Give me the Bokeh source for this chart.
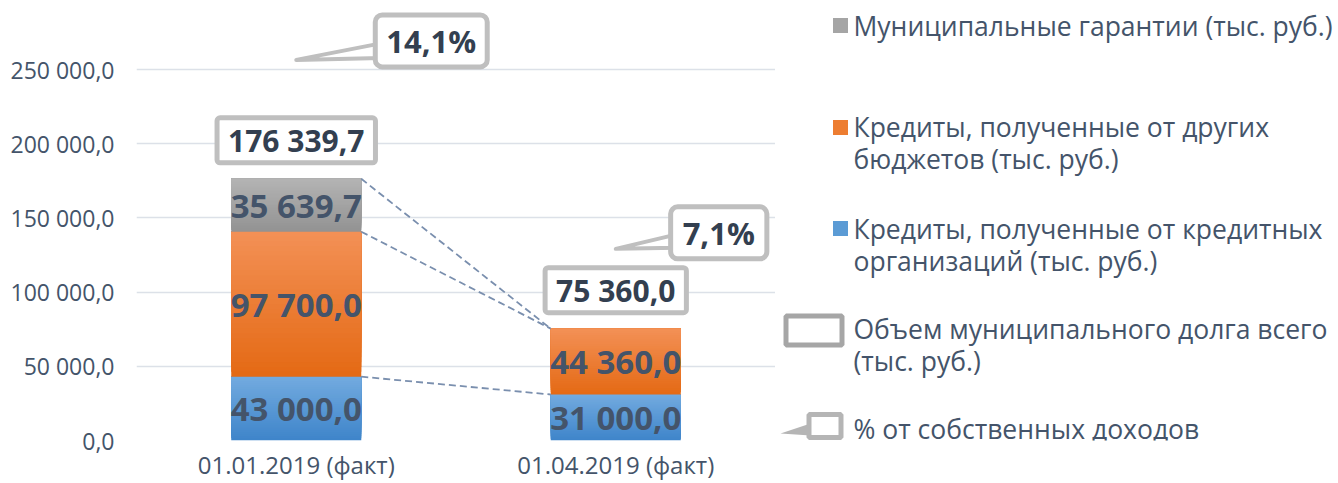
from bokeh.plotting import figure
from bokeh.models import Range1d, FixedTicker, Label
from bokeh.layouts import row
from bokeh.embed import file_html
from bokeh.resources import INLINE
from bokeh.core.properties import value

# ---------------- data ----------------
categories = ["01.01.2019 (факт)", "01.04.2019 (факт)"]
credit_org = [43000.0, 31000.0]        # Кредиты, полученные от кредитных организаций
credit_budget = [97700.0, 44360.0]     # Кредиты, полученные от других бюджетов
guarantees = [35639.7, 0.0]            # Муниципальные гарантии
totals = [176339.7, 75360.0]           # Объем муниципального долга всего
pct_income = [14.1, 7.1]               # % от собственных доходов
y_ticks = [0, 50000, 100000, 150000, 200000, 250000]
y_tick_labels = ["0,0", "50 000,0", "100 000,0", "150 000,0", "200 000,0", "250 000,0"]
legend_labels = [
    ["Муниципальные гарантии (тыс. руб.)"],
    ["Кредиты, полученные от других", "бюджетов (тыс. руб.)"],
    ["Кредиты, полученные от кредитных", "организаций (тыс. руб.)"],
    ["Объем муниципального долга всего", "(тыс. руб.)"],
    ["% от собственных доходов"],
]


def fmt(v):
    return "{:,.1f}".format(v).replace(",", " ").replace(".", ",")


FONT = "Open Sans"
TXT = "#44546A"
DARK = "#333F50"

# ---------------- main figure ----------------
FRAME_W, FRAME_H = 639, 440
PCT_MAX = 16.3
p = figure(width=775, height=483, x_range=Range1d(0, len(categories)),
           y_range=Range1d(0, 296500), output_backend="svg", toolbar_location=None,
           min_border_left=136, min_border_right=0, min_border_top=0, min_border_bottom=43)
p.extra_y_ranges = {"pct": Range1d(0, PCT_MAX)}
p.outline_line_color = None
p.background_fill_color = "white"
p.border_fill_color = "white"

xs = [i + 0.5 for i in range(len(categories))]
p.xaxis.ticker = FixedTicker(ticks=xs)
p.xaxis.major_label_overrides = {x: c for x, c in zip(xs, categories)}
p.yaxis.ticker = FixedTicker(ticks=y_ticks)
p.yaxis.major_label_overrides = {t: l for t, l in zip(y_ticks, y_tick_labels)}
for ax in (p.xaxis[0], p.yaxis[0]):
    ax.axis_line_color = None
    ax.major_tick_line_color = None
    ax.minor_tick_line_color = None
    ax.major_tick_out = 0
    ax.major_tick_in = 0
    ax.minor_tick_out = 0
    ax.minor_tick_in = 0
    ax.major_label_text_font = FONT
    ax.major_label_text_color = TXT
p.xaxis.major_label_text_font_size = "24px"
p.yaxis.major_label_text_font_size = "23px"
p.xaxis.major_label_standoff = 7
p.yaxis.major_label_standoff = 22
p.xgrid.grid_line_color = None
p.ygrid.grid_line_color = "#DCE1E8"
p.ygrid.grid_line_width = 1.5

BAR_W = 0.407


def hex2rgb(h):
    h = h.lstrip("#")
    return tuple(int(h[i:i + 2], 16) for i in (0, 2, 4))


def lerp(c1, c2, t):
    a, b = hex2rgb(c1), hex2rgb(c2)
    return "#%02x%02x%02x" % tuple(int(round(a[k] + (b[k] - a[k]) * t)) for k in range(3))


series = [
    (credit_org, "#3F85CA", "#72AADF"),
    (credit_budget, "#E46A15", "#F39055"),
    (guarantees, "#939393", "#B3B3B3"),
]

N = 30
gx, gb, gt, gc = [], [], [], []
lx, ly, lt = [], [], []
cum = [0.0] * len(categories)
levels = []
for vals, cbot, ctop in series:
    for i, v in enumerate(vals):
        b, t = cum[i], cum[i] + v
        if v > 0:
            for k in range(N):
                gx.append(xs[i])
                gb.append(b + (t - b) * k / N)
                gt.append(t)
                gc.append(lerp(cbot, ctop, k / (N - 1)))
            lx.append(xs[i])
            ly.append((b + t) / 2)
            lt.append(fmt(v))
        cum[i] = t
    levels.append(list(cum))

p.vbar(x=gx, bottom=gb, top=gt, width=BAR_W, fill_color=gc, line_color=None)

# dashed connector lines between bars
for lv in levels:
    p.segment(x0=[xs[0] + BAR_W / 2], y0=[lv[0]], x1=[xs[1] - BAR_W / 2], y1=[lv[1]],
              line_color="#7A8FAE", line_width=1.8, line_dash="7 4")

p.text(x=lx, y=ly, text=lt, text_font=value(FONT), text_font_style="bold",
       text_font_size="33px", text_color=TXT, text_align="center", text_baseline="middle")

# total boxes
for i, tot in enumerate(totals):
    p.add_layout(Label(x=xs[i], y=tot, y_offset=16, text=fmt(tot),
                       text_font=FONT, text_font_style="bold", text_font_size="30px",
                       text_color=DARK, text_align="center", text_baseline="bottom",
                       background_fill_color="white", border_line_color="#BFBFBF",
                       border_line_width=5, padding=dict(left=11, right=11, top=2, bottom=2),
                       border_radius=3))

# percent callouts
px_x = FRAME_W / len(categories)
px_y = FRAME_H / PCT_MAX
callout_style = [
    dict(cx=135, cy=19, up=(82, 16), lo=(84, 2), pad=11),
    dict(cx=103, cy=16, up=(59, 14), lo=(61, 1), pad=12),
]
for i, pc in enumerate(pct_income):
    st = callout_style[i]
    tx = [xs[i], xs[i] + st["up"][0] / px_x, xs[i] + st["lo"][0] / px_x]
    ty = [pc, pc + st["up"][1] / px_y, pc + st["lo"][1] / px_y]
    p.patch(x=tx, y=ty, y_range_name="pct", fill_color="white", line_color="#BFBFBF",
            line_width=4, line_join="round")
    p.add_layout(Label(x=xs[i], y=pc, y_range_name="pct", x_offset=st["cx"], y_offset=st["cy"],
                       text=fmt(pc) + "%", text_font=FONT, text_font_style="bold",
                       text_font_size="31px", text_color=DARK, text_align="center",
                       text_baseline="middle", background_fill_color="white",
                       border_line_color="#BFBFBF", border_line_width=5,
                       padding=dict(left=st["pad"], right=st["pad"], top=5, bottom=5),
                       border_radius=7))

# ---------------- legend figure ----------------
# (its plot frame is aligned with the main chart frame: page y 0..440)
L = figure(width=561, height=483, x_range=Range1d(775, 1336), y_range=Range1d(440, 0),
           output_backend="svg", toolbar_location=None,
           x_axis_location=None, y_axis_location=None,
           min_border_left=0, min_border_right=0, min_border_top=0, min_border_bottom=0)
L.grid.grid_line_color = None
L.outline_line_color = None

L.rect(x=[840, 840, 840], y=[25, 127, 228], width=15, height=15,
       fill_color=["#A5A5A5", "#ED7D31", "#5B9BD5"], line_color=None)
L.rect(x=[813.5], y=[330], width=56, height=29, fill_color="white",
       line_color="#A6A6A6", line_width=5)
L.patch(x=[780, 810, 810], y=[433, 423, 435], fill_color="#B5B5B5", line_color=None)
L.rect(x=[824.5], y=[425.5], width=32, height=23, fill_color="white",
       line_color="#B5B5B5", line_width=5)

line_y = [[25], [126, 158], [228, 260], [328, 360], [428]]
tx, ty, tt = [], [], []
for lines, ys in zip(legend_labels, line_y):
    for s, yy in zip(lines, ys):
        tx.append(853)
        ty.append(yy)
        tt.append(s)
L.text(x=tx, y=ty, text=tt, text_font=value(FONT), text_font_size="26.5px",
       text_color=TXT, text_align="left", text_baseline="middle")

layout = row(p, L)
open("out.html", "w").write(file_html(layout, INLINE))
